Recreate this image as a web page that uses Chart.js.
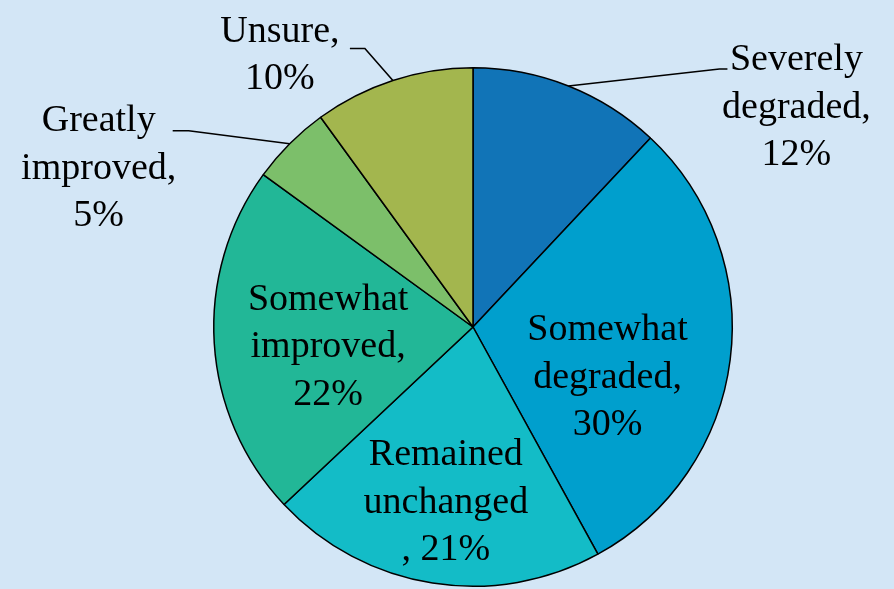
<!DOCTYPE html>
<html>
<head>
<meta charset="utf-8">
<script src="https://cdn.jsdelivr.net/npm/chart.js@4.4.1/dist/chart.umd.min.js"></script>
<style>
  html, body { margin: 0; padding: 0; background: #d3e6f6; }
  #pie { display: block; }
</style>
</head>
<body>
<canvas id="pie" width="894" height="589"></canvas>
<script>
// categories + values (percent), clockwise from 12 o'clock
const categories = ["Severely degraded", "Somewhat degraded", "Remained unchanged", "Somewhat improved", "Greatly improved", "Unsure"];
const shares = [12, 30, 21, 22, 5, 10];
const sliceColors = ["#1174b7", "#009fcd", "#13bcc7", "#22b797", "#7cbf6a", "#a3b64e"];

// text shown for each slice (line breaks as in the picture)
const labelLines = [
  ["Severely", "degraded,", "12%"],
  ["Somewhat", "degraded,", "30%"],
  ["Remained", "unchanged", ", 21%"],
  ["Somewhat", "improved,", "22%"],
  ["Greatly", "improved,", "5%"],
  ["Unsure,", "10%"],
];

// label placement: inside ones sit on the bisector, outside ones get a leader line
const labelLayout = [
  { outside: true, elbow: [151, -17], end: [159, -17], text: [228, 22] },
  { outside: false, frac: 0.523, dx: 0, dy: 34 },
  { outside: false, frac: 0.67, dx: 0, dy: 4 },
  { outside: false, frac: 0.56, dx: 0, dy: 11 },
  { outside: true, elbow: [-101, -13], end: [-117, -13], text: [-191, 25] },
  { outside: true, elbow: [-28, -32], end: [-43, -32], text: [-113, -25] },
];

const FONT = "38px 'Liberation Serif', 'Times New Roman', serif";
const LINE_H = 47.5;

function drawLines(ctx, lines, cx, cy) {
  const top = cy - (lines.length - 1) * LINE_H / 2;
  lines.forEach((t, i) => ctx.fillText(t, cx, top + i * LINE_H));
}

const sliceLabels = {
  id: "sliceLabels",
  afterDatasetsDraw(chart) {
    const ctx = chart.ctx;
    const arcs = chart.getDatasetMeta(0).data;
    ctx.save();
    ctx.font = FONT;
    ctx.fillStyle = "#000";
    ctx.textAlign = "center";
    ctx.textBaseline = "middle";
    arcs.forEach((arc, i) => {
      const lay = labelLayout[i];
      const mid = (arc.startAngle + arc.endAngle) / 2;
      if (!lay.outside) {
        const r = arc.outerRadius * lay.frac;
        drawLines(ctx, labelLines[i], arc.x + Math.cos(mid) * r + lay.dx, arc.y + Math.sin(mid) * r + lay.dy);
        return;
      }
      // point on the rim
      const px = arc.x + Math.cos(mid) * arc.outerRadius;
      const py = arc.y + Math.sin(mid) * arc.outerRadius;
      ctx.beginPath();
      ctx.strokeStyle = "#000";
      ctx.lineWidth = 1.6;
      ctx.moveTo(px, py);
      ctx.lineTo(px + lay.elbow[0], py + lay.elbow[1]);
      ctx.lineTo(px + lay.end[0], py + lay.end[1]);
      ctx.stroke();
      drawLines(ctx, labelLines[i], px + lay.text[0], py + lay.text[1]);
    });
    ctx.restore();
  },
};

new Chart(document.getElementById("pie"), {
  type: "pie",
  data: {
    labels: categories,
    datasets: [{
      data: shares,
      backgroundColor: sliceColors,
      borderColor: "#000",
      borderWidth: 1.5,
    }],
  },
  options: {
    responsive: false,
    animation: false,
    layout: { padding: { left: 213, right: 161, top: 67, bottom: 2 } },
    plugins: {
      legend: { display: false },
      tooltip: { enabled: false },
    },
  },
  plugins: [sliceLabels],
});
</script>
</body>
</html>
